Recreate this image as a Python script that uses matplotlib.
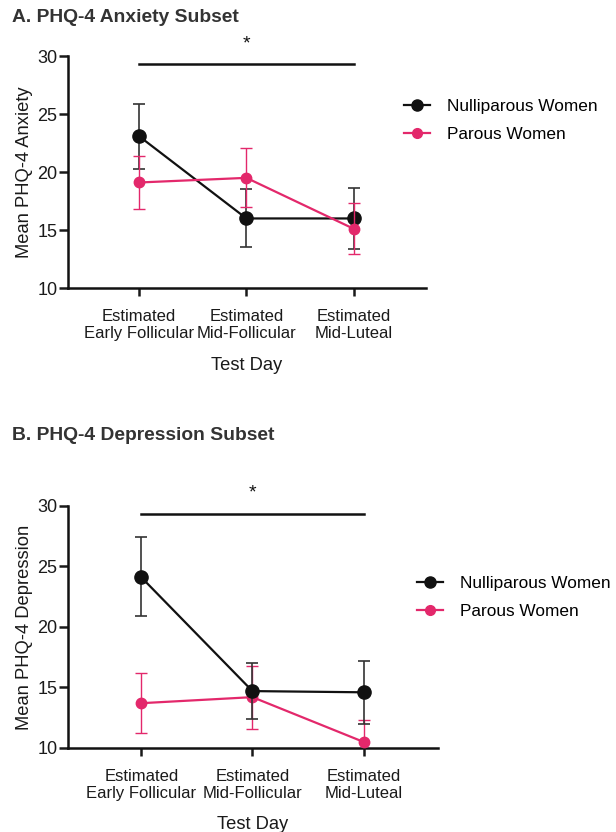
import matplotlib
matplotlib.use('Agg')
import matplotlib.pyplot as plt
from matplotlib.lines import Line2D

plt.rcParams['font.family'] = ['Liberation Sans', 'DejaVu Sans']

days = ['Estimated\nEarly Follicular', 'Estimated\nMid-Follicular', 'Estimated\nMid-Luteal']
groups = ['Nulliparous Women', 'Parous Women']

# panel A - anxiety (mean, upper, lower error ends)
anx_null = [23.1, 16.0, 16.0]
anx_null_hi = [25.9, 18.5, 18.6]
anx_null_lo = [20.3, 13.5, 13.4]
anx_par = [19.1, 19.5, 15.1]
anx_par_hi = [21.4, 22.1, 17.3]
anx_par_lo = [16.8, 17.0, 12.9]

# panel B - depression
dep_null = [24.1, 14.7, 14.6]
dep_null_hi = [27.4, 17.0, 17.2]
dep_null_lo = [20.9, 12.4, 12.0]
dep_par = [13.7, 14.2, 10.5]
dep_par_hi = [16.2, 16.8, 12.3]
dep_par_lo = [11.2, 11.6, 8.7]

sig_y = 29.3

BLACK = '#111111'
PINK = '#E3286B'
TXT = '#1a1a1a'

fig = plt.figure(figsize=(6.16, 8.32), dpi=100)
axA = fig.add_axes([0.1104, 0.6538, 0.581, 0.2788])
axB = fig.add_axes([0.1104, 0.101, 0.6006, 0.2909])


def panel(ax, null, null_hi, null_lo, par, par_hi, par_lo, ylab, pink_top):
    x = list(range(len(days)))
    zn, zp = (3, 4) if pink_top else (4, 3)
    ax.errorbar(x, null, yerr=[[m - l for m, l in zip(null, null_lo)], [h - m for m, h in zip(null, null_hi)]],
                color=BLACK, ecolor='#333333', elinewidth=1.2, capsize=4.5, capthick=1.2,
                marker='o', markersize=9.5, linewidth=1.6, zorder=zn)
    ax.errorbar(x, par, yerr=[[m - l for m, l in zip(par, par_lo)], [h - m for m, h in zip(par, par_hi)]],
                color=PINK, ecolor=PINK, elinewidth=1.0, capsize=4, capthick=1.0,
                marker='o', markersize=7.5, linewidth=1.6, zorder=zp)
    ax.plot([0, 2], [sig_y, sig_y], color=BLACK, lw=1.8, clip_on=False)
    ax.text(1, sig_y + 1.75, '*', ha='center', va='center', fontsize=14, color=BLACK)
    ax.set_xlim(-0.66, 2.67)
    ax.set_ylim(10, 30)
    ax.set_yticks([10, 15, 20, 25, 30])
    ax.set_xticks(x)
    ax.set_xticklabels(days, fontsize=12, color=TXT, linespacing=1.2)
    ax.tick_params(axis='y', labelsize=13, width=1.8, length=6.5, colors=TXT, pad=1)
    ax.tick_params(axis='x', width=1.8, length=6, pad=9, colors=TXT)
    for s in ['top', 'right']:
        ax.spines[s].set_visible(False)
    for s in ['left', 'bottom']:
        ax.spines[s].set_linewidth(1.8)
        ax.spines[s].set_color('#111111')
    ax.set_ylabel(ylab, fontsize=13.2, color=TXT, labelpad=3)
    ax.set_xlabel('Test Day', fontsize=13.2, color=TXT, labelpad=11)


panel(axA, anx_null, anx_null_hi, anx_null_lo, anx_par, anx_par_hi, anx_par_lo, 'Mean PHQ-4 Anxiety', True)
panel(axB, dep_null, dep_null_hi, dep_null_lo, dep_par, dep_par_hi, dep_par_lo, 'Mean PHQ-4 Depression', False)

handles = [Line2D([], [], color=BLACK, marker='o', markersize=8, lw=1.6),
           Line2D([], [], color=PINK, marker='o', markersize=7, lw=1.6)]
fig.legend(handles, groups, loc='upper left', bbox_to_anchor=(404 / 616, 1 - 99 / 832), frameon=False,
           fontsize=12.4, handlelength=1.5, handletextpad=1.0, labelspacing=0.75, borderaxespad=0, borderpad=0)
fig.legend(handles, groups, loc='upper left', bbox_to_anchor=(417 / 616, 1 - 576 / 832), frameon=False,
           fontsize=12.4, handlelength=1.5, handletextpad=1.0, labelspacing=0.75, borderaxespad=0, borderpad=0)

fig.text(12 / 616, 1 - 18 / 832, 'A. PHQ-4 Anxiety Subset', fontsize=13.9, fontweight='bold',
         color='#333333', va='center', ha='left')
fig.text(12 / 616, 1 - 435 / 832, 'B. PHQ-4 Depression Subset', fontsize=13.9, fontweight='bold',
         color='#333333', va='center', ha='left')

fig.savefig('out.png', dpi=100)
